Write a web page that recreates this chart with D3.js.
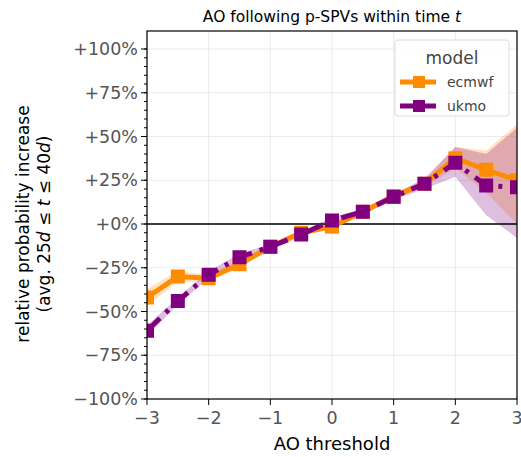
<!DOCTYPE html>
<html><head><meta charset="utf-8">
<script src="https://cdn.jsdelivr.net/npm/d3@7"></script>
<style>body{margin:0;background:#fff}text{font-family:"DejaVu Sans",sans-serif}</style>
</head><body><svg id="c" width="521" height="457"></svg>
<script>
const thresholds = [-3, -2.5, -2, -1.5, -1, -0.5, 0, 0.5, 1, 1.5, 2, 2.5, 3];
const ecmwf = [-42, -30, -31, -23, -13, -5, -1.5, 7, 16, 23, 37.5, 31, 25];
const ecmwfLo = [-47, -33, -33, -25, -14.5, -6, -3, 5.5, 14.5, 21, 32, 18, 0];
const ecmwfHi = [-37, -27, -29, -21, -11.5, -4, 0.5, 8.5, 17.5, 25, 44, 42, 57];
const ukmo = [-61, -44, -29, -19, -13, -6, 2, 7, 15.5, 23, 35, 22, 21];
const ukmoLo = [-64, -46, -31, -21, -14.5, -7, 0, 5.5, 14, 20, 27, 5, -8];
const ukmoHi = [-58, -42, -27, -17, -11.5, -5, 4, 8.5, 17, 26, 44, 40, 55];
const yTicks = [-100, -75, -50, -25, 0, 25, 50, 75, 100];
const xTicks = [-3, -2, -1, 0, 1, 2, 3];

const svg = d3.select('#c');
const L = 147, R = 517, T = 31, B = 399;
const x = d3.scaleLinear().domain([-3, 3]).range([L, R]);
const y = d3.scaleLinear().domain([-100, 100]).range([399, 49]);

const g = svg.append('g');
g.append('clipPath').attr('id', 'clip').append('rect').attr('x', L).attr('y', T).attr('width', R - L).attr('height', B - T);

g.selectAll('.gx').data(xTicks).enter().append('line')
	.attr('x1', d => x(d)).attr('x2', d => x(d)).attr('y1', T).attr('y2', B)
	.attr('stroke', '#ebebeb').attr('stroke-width', 1);
g.selectAll('.gy').data(yTicks).enter().append('line')
	.attr('x1', L).attr('x2', R).attr('y1', d => y(d)).attr('y2', d => y(d))
	.attr('stroke', '#ebebeb').attr('stroke-width', 1);

const plot = g.append('g').attr('clip-path', 'url(#clip)');
const area = (lo, hi) => d3.area().x((d, i) => x(thresholds[i])).y0((d, i) => y(lo[i])).y1((d, i) => y(hi[i]))(thresholds);
plot.append('path').attr('d', area(ecmwfLo, ecmwfHi)).attr('fill', '#ff8c00').attr('opacity', 0.25);
plot.append('path').attr('d', area(ukmoLo, ukmoHi)).attr('fill', '#800080').attr('opacity', 0.25);

plot.append('line').attr('x1', L).attr('x2', R).attr('y1', y(0)).attr('y2', y(0)).attr('stroke', '#000').attr('stroke-width', 1.5);

const line = vals => d3.line().x((d, i) => x(thresholds[i])).y((d, i) => y(vals[i]))(thresholds);
function series(vals, color, dash) {
	plot.append('path').attr('d', line(vals)).attr('fill', 'none').attr('stroke', color)
		.attr('stroke-width', 5).attr('stroke-dasharray', dash);
	plot.selectAll(null).data(vals).enter().append('rect')
		.attr('x', (d, i) => x(thresholds[i]) - 7).attr('y', d => y(d) - 7)
		.attr('width', 14).attr('height', 14).attr('fill', color);
}
series(ecmwf, '#ff8c00', null);
series(ukmo, '#800080', '18,8,4,8');

g.append('rect').attr('x', L).attr('y', T).attr('width', R - L).attr('height', B - T)
	.attr('fill', 'none').attr('stroke', '#000').attr('stroke-width', 1.2);

// y axis
const yMinor = d3.range(-100, 101, 5);
g.selectAll('.ym').data(yMinor).enter().append('line')
	.attr('x1', L - 3).attr('x2', L).attr('y1', d => y(d)).attr('y2', d => y(d)).attr('stroke', '#000');
g.selectAll('.yM').data(yTicks).enter().append('line')
	.attr('x1', L - 6).attr('x2', L).attr('y1', d => y(d)).attr('y2', d => y(d)).attr('stroke', '#000');
g.selectAll('.yl').data(yTicks).enter().append('text')
	.attr('x', L - 9).attr('y', d => y(d) + 6).attr('text-anchor', 'end')
	.attr('font-size', 17.5).attr('fill', '#555')
	.text(d => (d > 0 ? '+' : d < 0 ? '\u2212' : '+') + Math.abs(d) + '%');
// x axis
g.selectAll('.xm').data(xTicks).enter().append('line')
	.attr('x1', d => x(d)).attr('x2', d => x(d)).attr('y1', B).attr('y2', B + 6).attr('stroke', '#000');
g.selectAll('.xl').data(xTicks).enter().append('text')
	.attr('x', d => x(d)).attr('y', B + 25).attr('text-anchor', 'middle')
	.attr('font-size', 17.5).attr('fill', '#555')
	.text(d => (d < 0 ? '\u2212' : '') + Math.abs(d));

svg.append('text').attr('x', 332).attr('y', 450).attr('text-anchor', 'middle').attr('font-size', 18).text('AO threshold');
svg.append('text').attr('x', 332).attr('y', 22).attr('text-anchor', 'middle').attr('font-size', 15.5)
	.html('AO following p-SPVs within time <tspan font-style="italic">t</tspan>');
const yl = svg.append('text').attr('transform', 'translate(29,224) rotate(-90)').attr('text-anchor', 'middle').attr('font-size', 17);
yl.append('tspan').attr('x', 0).attr('y', 0).text('relative probability increase');
yl.append('tspan').attr('x', 0).attr('y', 21)
	.html('(avg. 25<tspan font-style="italic">d</tspan> \u2264 <tspan font-style="italic">t</tspan> \u2264 40<tspan font-style="italic">d</tspan>)');

// legend
const lg = svg.append('g').attr('transform', 'translate(395,40)');
lg.append('rect').attr('width', 114).attr('height', 76).attr('rx', 3).attr('fill', '#fff').attr('fill-opacity', 0.85).attr('stroke', '#ddd');
lg.append('text').attr('x', 57).attr('y', 24).attr('text-anchor', 'middle').attr('font-size', 17).attr('fill', '#444').text('model');
[['ecmwf', '#ff8c00'], ['ukmo', '#800080']].forEach(([n, c], i) => {
	const yy = 42 + i * 24;
	lg.append('line').attr('x1', 5).attr('x2', 41).attr('y1', yy).attr('y2', yy).attr('stroke', c).attr('stroke-width', 5);
	lg.append('rect').attr('x', 18).attr('y', yy - 6).attr('width', 12).attr('height', 12).attr('fill', c);
	lg.append('text').attr('x', 52).attr('y', yy + 5).attr('font-size', 14).attr('fill', '#444').text(n);
});
</script></body></html>
